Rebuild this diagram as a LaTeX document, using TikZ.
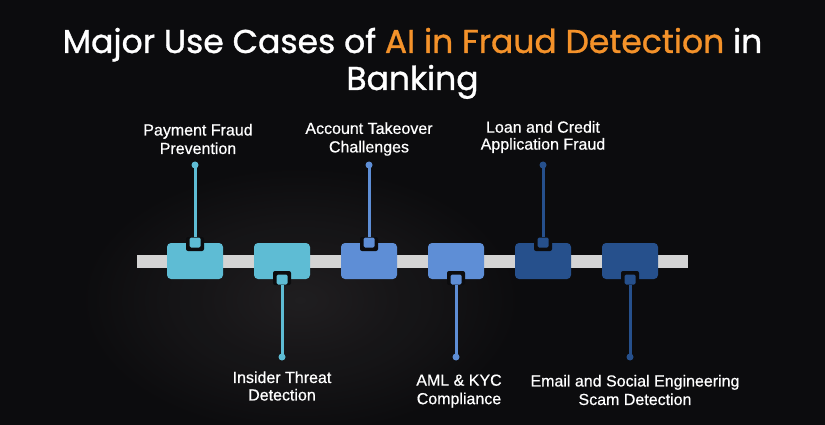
\documentclass[tikz,border=0pt]{standalone}
\usepackage{fontspec}
\setmainfont{Liberation Sans}[FakeBold=0.3]
\newfontfamily\titlefont{Poppins}[FakeBold=1]
\newfontfamily\lblfont{Liberation Sans}[FakeBold=0.6]
\definecolor{bg}{RGB}{12,12,14}
\definecolor{bglight}{RGB}{34,32,34}
\definecolor{cA}{RGB}{94,188,212}
\definecolor{cB}{RGB}{94,142,214}
\definecolor{cC}{RGB}{38,80,140}
\definecolor{barc}{RGB}{212,212,212}
\definecolor{orng}{RGB}{244,146,42}
\begin{document}
\begin{tikzpicture}[x=1pt,y=-1pt,
  box/.style={rectangle, rounded corners=4pt, minimum width=56pt, minimum height=36pt, inner sep=0pt},
  notch/.style={rectangle, rounded corners=2pt, fill=bg, minimum width=18pt, minimum height=14pt, inner sep=0pt},
  sq/.style={rectangle, rounded corners=1.5pt, minimum width=11pt, minimum height=10pt, inner sep=0pt},
  dotn/.style={circle, minimum size=7pt, inner sep=0pt},
  conn/.style={line width=3pt},
  lbl/.style={text=white, align=center, font=\lblfont\fontsize{16}{18.5}\selectfont}
]
\fill[bg] (0,0) rectangle (825,425);
\useasboundingbox (0,0) rectangle (825,425);
\shade[inner color=bglight, outer color=bg, opacity=0.9] (300,300) ellipse (230 and 140);
% title
\node[anchor=base, text=white, font=\titlefont\fontsize{33}{38}\selectfont] (t1) at (412.5,53) {Major Use Cases of \textcolor{orng}{AI in Fraud Detection} in};
\node[anchor=base, text=white, font=\titlefont\fontsize{33}{38}\selectfont] (t2) at (412.5,90) {Banking};
% bar
\fill[barc] (137,255) rectangle (688,268);
% boxes
\foreach \i/\x/\c in {1/195/cA,2/282/cA,3/369/cB,4/456/cB,5/543/cC,6/630/cC}{
  \node[box, fill=\c] (b\i) at (\x,261) {};
}
% top notches
\foreach \i/\x/\c in {1/195/cA,3/369/cB,5/543/cC}{
  \node[notch] (n\i) at (\x,244) {};
  \node[sq, fill=\c] (s\i) at (\x,242.5) {};
  \node[dotn, fill=\c] (d\i) at (\x,165) {};
  \draw[conn, \c] (s\i.north) -- (d\i.center);
}
% bottom notches
\foreach \i/\x/\c in {2/282/cA,4/456/cB,6/630/cC}{
  \node[notch] (n\i) at (\x,278) {};
  \node[sq, fill=\c] (s\i) at (\x,279.5) {};
  \node[dotn, fill=\c] (d\i) at (\x,357) {};
  \draw[conn, \c] (s\i.south) -- (d\i.center);
}
% labels
\node[lbl] (l1) at (198,139) {Payment Fraud\\Prevention};
\node[lbl] (l3) at (369,139) {Account Takeover\\Challenges};
\node[lbl, font=\lblfont\fontsize{16}{17}\selectfont] (l5) at (543,137) {Loan and Credit\\Application Fraud};
\node[lbl, font=\lblfont\fontsize{16}{17.5}\selectfont] (l2) at (282,386) {Insider Threat\\Detection};
\node[lbl] (l4) at (459,391) {AML \& KYC\\Compliance};
\node[lbl] (l6) at (635,390) {Email and Social Engineering\\Scam Detection};
\end{tikzpicture}
\end{document}
